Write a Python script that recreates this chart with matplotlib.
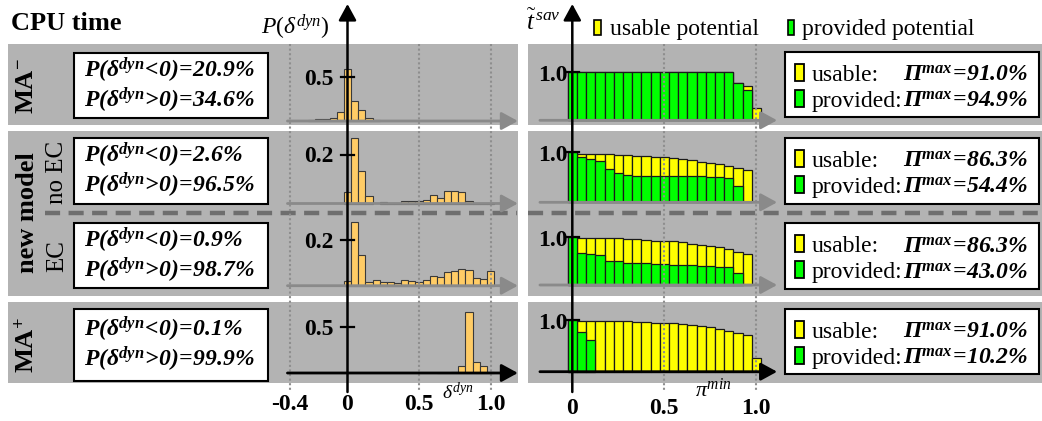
import matplotlib
matplotlib.use('Agg')
import matplotlib.pyplot as plt
from matplotlib.patches import Rectangle

plt.rcParams.update({
    'font.family': ['Liberation Serif', 'DejaVu Serif'],
    'mathtext.fontset': 'custom',
    'mathtext.rm': 'Liberation Serif',
    'mathtext.it': 'Liberation Serif:italic',
    'mathtext.bf': 'Liberation Serif:italic:bold',
    'mathtext.sf': 'Liberation Serif:bold',
})

# ---------------- data ----------------
p_neg = ['20.9', '2.6', '0.9', '0.1']
p_pos = ['34.6', '96.5', '98.7', '99.9']
pi_usable_max = ['91.0', '86.3', '86.3', '91.0']
pi_provided_max = ['94.9', '54.4', '43.0', '10.2']
hist_tick = [0.5, 0.2, 0.2, 0.5]
hist_tick_lbl = ['0.5', '0.2', '0.2', '0.5']

delta_bins = [-0.25, -0.20, -0.15, -0.10, -0.05, 0.00, 0.05, 0.10, 0.15, 0.20,
              0.25, 0.30, 0.35, 0.40, 0.45, 0.50, 0.55, 0.60, 0.65, 0.70,
              0.75, 0.80, 0.85, 0.90, 0.95, 1.00]
hist_ma_minus = [0.006, 0.019, 0.019, 0.038, 0.098, 0.595, 0.223, 0.129, 0.038, 0.008,
                 0, 0, 0, 0, 0, 0, 0, 0, 0, 0, 0, 0, 0, 0, 0, 0]
hist_no_ec = [0, 0, 0, 0, 0, 0.046, 0.267, 0.133, 0.029, 0.0,
              0.008, 0.002, 0.004, 0.012, 0.010, 0.012, 0.016, 0.033, 0.023, 0.050,
              0.050, 0.046, 0.010, 0.004, 0.004, 0.004]
hist_ec = [0, 0, 0, 0, 0, 0.021, 0.282, 0.134, 0.015, 0.025,
           0.015, 0.015, 0.010, 0.025, 0.019, 0.016, 0.025, 0.043, 0.038, 0.060,
           0.065, 0.072, 0.068, 0.032, 0.029, 0.065]
hist_ma_plus = [0, 0, 0, 0, 0, 0, 0, 0, 0, 0,
                0, 0, 0, 0, 0, 0, 0, 0, 0.003, 0.004,
                0.015, 0.077, 0.664, 0.124, 0.077, 0.006]

pi_bins = [0.00, 0.05, 0.10, 0.15, 0.20, 0.25, 0.30, 0.35, 0.40, 0.45, 0.50,
           0.55, 0.60, 0.65, 0.70, 0.75, 0.80, 0.85, 0.90, 0.95, 1.00]
usable_ma_minus = [1.0, 1.0, 1.0, 1.0, 1.0, 1.0, 1.0, 1.0, 1.0, 1.0, 1.0,
                   1.0, 1.0, 1.0, 1.0, 1.0, 1.0, 0.99, 0.78, 0.72, 0.255]
provided_ma_minus = [1.0, 1.0, 1.0, 1.0, 1.0, 1.0, 1.0, 1.0, 1.0, 1.0, 1.0,
                     1.0, 1.0, 1.0, 1.0, 1.0, 1.0, 0.99, 0.78, 0.63, 0.0]
usable_no_ec = [1.0, 0.973, 0.967, 0.967, 0.967, 0.953, 0.953, 0.933, 0.92, 0.913, 0.913,
                0.893, 0.873, 0.853, 0.813, 0.793, 0.76, 0.733, 0.693, 0.64, 0.0]
provided_no_ec = [1.0, 0.913, 0.873, 0.833, 0.673, 0.593, 0.553, 0.527, 0.527, 0.527, 0.527,
                  0.527, 0.527, 0.527, 0.527, 0.513, 0.513, 0.487, 0.333, 0.0, 0.0]
usable_ec = [1.0, 0.993, 0.993, 0.993, 0.993, 0.979, 0.972, 0.958, 0.944, 0.93, 0.93,
             0.916, 0.895, 0.867, 0.839, 0.818, 0.79, 0.748, 0.699, 0.643, 0.0]
provided_ec = [1.0, 0.678, 0.657, 0.636, 0.51, 0.497, 0.469, 0.469, 0.455, 0.448, 0.448,
               0.427, 0.427, 0.427, 0.406, 0.406, 0.385, 0.371, 0.259, 0.0, 0.0]
usable_ma_plus = [1.0, 0.987, 0.987, 0.987, 0.987, 0.987, 0.987, 0.961, 0.961, 0.948, 0.948,
                  0.935, 0.929, 0.91, 0.884, 0.865, 0.832, 0.787, 0.755, 0.71, 0.271]
provided_ma_plus = [1.0, 0.774, 0.619, 0, 0, 0, 0, 0, 0, 0, 0,
                    0, 0, 0, 0, 0, 0, 0, 0, 0, 0]

hists = [hist_ma_minus, hist_no_ec, hist_ec, hist_ma_plus]
usables = [usable_ma_minus, usable_no_ec, usable_ec, usable_ma_plus]
provideds = [provided_ma_minus, provided_no_ec, provided_ec, provided_ma_plus]

# ---------------- layout (pixels) ----------------
W, H = 1042, 421
fig = plt.figure(figsize=(W / 100, H / 100), dpi=100)
fig.patch.set_facecolor('white')


def rect(x0, x1, ytop, ybot):
    return [x0 / W, 1 - ybot / H, (x1 - x0) / W, (ybot - ytop) / H]


GRAY = '#b3b3b3'
DOT = '#8e8e8e'
ARROW_GRAY = '#8a8a8a'
FS = 17

# left x mapping
L0, LS = 347.5, 143.0
R0, RS = 572.3, 184.0
LPX = (270, 525)
RPX = (520, 790)
LXLIM = ((LPX[0] - L0) / LS, (LPX[1] - L0) / LS)
RXLIM = ((RPX[0] - R0) / RS, (RPX[1] - R0) / RS)

left_rows = [(121.0, 88.0), (203.5, 245.0), (285.7, 227.0), (373.0, 91.4)]
right_rows = [(120.3, 48.3), (202.3, 50.0), (285.0, 47.7), (371.7, 51.7)]

# background
bg = fig.add_axes([0, 0, 1, 1], zorder=0)
bg.set_xlim(0, W); bg.set_ylim(H, 0); bg.axis('off')
for (yt, yb) in [(44, 125), (131, 296), (302, 383)]:
    bg.add_patch(Rectangle((8, yt), 509.5, yb - yt, facecolor=GRAY, edgecolor='none'))
    bg.add_patch(Rectangle((527.5, yt), W - 527.5, yb - yt, facecolor=GRAY, edgecolor='none'))
bg.plot([45, 517], [213, 213], color='#6e6e6e', lw=3.2, dashes=(3.4, 1.9))
bg.plot([528, W], [213, 213], color='#6e6e6e', lw=3.2, dashes=(3.4, 1.9))

# data axes
for i in range(4):
    b, s = left_rows[i]
    ax = fig.add_axes(rect(LPX[0], LPX[1], b - 82, b + 3), zorder=2)
    ax.set_xlim(*LXLIM); ax.set_ylim(-3 / s, 82 / s); ax.axis('off')
    xs = [x for x, h in zip(delta_bins, hists[i]) if h > 0]
    hs = [h for h in hists[i] if h > 0]
    ax.bar(xs, hs, width=0.05, color='#ffcc66', edgecolor='#3a3a3a', linewidth=0.8)
    t = hist_tick[i]
    ax.plot([-0.045, 0.045], [t, t], color='black', lw=1.6, clip_on=False, zorder=5)
    ax.text(-0.095, t - 8 / s, hist_tick_lbl[i], ha='right', va='baseline',
            fontsize=FS, fontweight='bold')

    b, s = right_rows[i]
    ax = fig.add_axes(rect(RPX[0], RPX[1], b - 82, b + 3), zorder=2)
    ax.set_xlim(*RXLIM); ax.set_ylim(-3 / s, 82 / s); ax.axis('off')
    xu = [x for x, h in zip(pi_bins, usables[i]) if h > 0]
    hu = [h for h in usables[i] if h > 0]
    xp = [x for x, h in zip(pi_bins, provideds[i]) if h > 0]
    hp = [h for h in provideds[i] if h > 0]
    ax.bar(xu, hu, width=0.05, color='#ffff00', edgecolor='#1a1a1a', linewidth=0.9)
    ax.bar(xp, hp, width=0.05, color='#00ff00', edgecolor='#1a1a1a', linewidth=0.9)
    ax.plot([-0.036, 0.037], [1.0, 1.0], color='black', lw=1.6, clip_on=False, zorder=5)
    ax.text(-0.025, 1.0 - 9 / s, '1.0', ha='right', va='baseline',
            fontsize=FS, fontweight='bold')

# frames (grid lines, axes arrows)
lf = fig.add_axes(rect(LPX[0], LPX[1], 0, H), zorder=3)
lf.set_xlim(*LXLIM); lf.set_ylim(H, 0); lf.axis('off'); lf.patch.set_alpha(0)
rf = fig.add_axes(rect(RPX[0], RPX[1], 0, H), zorder=3)
rf.set_xlim(*RXLIM); rf.set_ylim(H, 0); rf.axis('off'); rf.patch.set_alpha(0)

for x in [-0.4, 0.5, 1.0]:
    lf.plot([x, x], [44, 390], color=DOT, lw=1.5, linestyle=(0, (1, 1.2)))
for x in [0.5, 1.0]:
    rf.plot([x, x], [44, 390], color=DOT, lw=1.5, linestyle=(0, (1, 1.2)))

arrow_kw = dict(arrowstyle='-|>,head_length=0.55,head_width=0.3', mutation_scale=18,
                shrinkA=0, shrinkB=0)
for i in range(4):
    col = 'black' if i == 3 else ARROW_GRAY
    lw = 2.0
    b = left_rows[i][0]
    lf.annotate('', xy=(LXLIM[1] - 0.05, b), xytext=(-0.42, b),
                arrowprops=dict(color=col, lw=lw, **arrow_kw))
    b = right_rows[i][0]
    rf.annotate('', xy=(1.113, b), xytext=(-0.176, b),
                arrowprops=dict(color=col, lw=lw, **arrow_kw))
lf.annotate('', xy=(0, 4), xytext=(0, 392),
            arrowprops=dict(color='black', lw=1.8, **arrow_kw))
rf.annotate('', xy=(0, 4), xytext=(0, 392),
            arrowprops=dict(color='black', lw=1.8, **arrow_kw))

for x, lab in zip([-0.4, 0.0, 0.5, 1.0], ['-0.4', '0', '0.5', '1.0']):
    lf.text(x, 410, lab, ha='center', va='baseline', fontsize=FS, fontweight='bold')
for x, lab in zip([0.0, 0.5, 1.0], ['0', '0.5', '1.0']):
    rf.text(x, 414, lab, ha='center', va='baseline', fontsize=FS, fontweight='bold')
lf.text(0.77, 393, r'$\delta^{dyn}$', ha='center', va='center', fontsize=14)
rf.text(0.768, 390, r'$\pi^{min}$', ha='center', va='center', fontsize=16)

# foreground texts and boxes
fg = fig.add_axes([0, 0, 1, 1], zorder=4)
fg.set_xlim(0, W); fg.set_ylim(H, 0); fg.axis('off'); fg.patch.set_alpha(0)

fg.text(11, 30, 'CPU time', ha='left', va='baseline', fontsize=19, fontweight='bold')
fg.text(295, 27, r'$P(\delta^{dyn})$', ha='center', va='center', fontsize=17)
fg.text(543, 22, r'$\tilde{t}^{\,sav}$', ha='center', va='center', fontsize=18)

fg.add_patch(Rectangle((594, 20), 6.5, 15, facecolor='#ffff00', edgecolor='black', lw=1.2))
fg.text(610, 35, 'usable potential', ha='left', va='baseline', fontsize=FS)
fg.add_patch(Rectangle((787.5, 20), 6.5, 15, facecolor='#00ff00', edgecolor='black', lw=1.2))
fg.text(802, 35, 'provided potential', ha='left', va='baseline', fontsize=FS)

fg.text(27, 86, r'$\mathsf{MA^{-}}$', rotation=90, ha='center', va='center', fontsize=19)
fg.text(27, 213, 'new model', rotation=90, ha='center', va='center', fontsize=19,
        fontweight='bold')
fg.text(57, 172, 'no EC', rotation=90, ha='center', va='center', fontsize=18)
fg.text(57, 256, 'EC', rotation=90, ha='center', va='center', fontsize=18)
fg.text(27, 345, r'$\mathsf{MA^{+}}$', rotation=90, ha='center', va='center', fontsize=19)

left_boxes = [(53.3, 118.3), (137.7, 204.0), (222.7, 288.3), (309.0, 380.7)]
right_boxes = [(52.3, 117.3), (138.3, 203.7), (223.3, 289.3), (309.3, 374.0)]
for i in range(4):
    T, B = left_boxes[i]
    C = (T + B) / 2
    fg.add_patch(Rectangle((74, T), 194, B - T, facecolor='white', edgecolor='black', lw=1.5))
    fg.text(84, C - 8.5, r'$\mathbf{P(\delta^{dyn}\!<\!0)\!=\!' + p_neg[i] + r'\%}$',
            ha='left', va='baseline', fontsize=FS)
    fg.text(84, C + 21.5, r'$\mathbf{P(\delta^{dyn}\!>\!0)\!=\!' + p_pos[i] + r'\%}$',
            ha='left', va='baseline', fontsize=FS)

    T, B = right_boxes[i]
    C = (T + B) / 2
    fg.add_patch(Rectangle((785, T), 254, B - T, facecolor='white', edgecolor='black', lw=1.5))
    y1, y2 = C - 4, C + 22
    fg.add_patch(Rectangle((795, y1 - 17), 9, 17, facecolor='#ffff00', edgecolor='black', lw=1.3))
    fg.add_patch(Rectangle((795, y2 - 17), 9, 17, facecolor='#00ff00', edgecolor='black', lw=1.3))
    fg.text(812, y1, 'usable:', ha='left', va='baseline', fontsize=FS)
    fg.text(812, y2, 'provided:', ha='left', va='baseline', fontsize=FS)
    fg.text(903, y1, r'$\mathbf{\Pi^{max}\!=\!' + pi_usable_max[i] + r'\%}$',
            ha='left', va='baseline', fontsize=FS)
    fg.text(903, y2, r'$\mathbf{\Pi^{max}\!=\!' + pi_provided_max[i] + r'\%}$',
            ha='left', va='baseline', fontsize=FS)

fig.savefig('out.png', dpi=100)
